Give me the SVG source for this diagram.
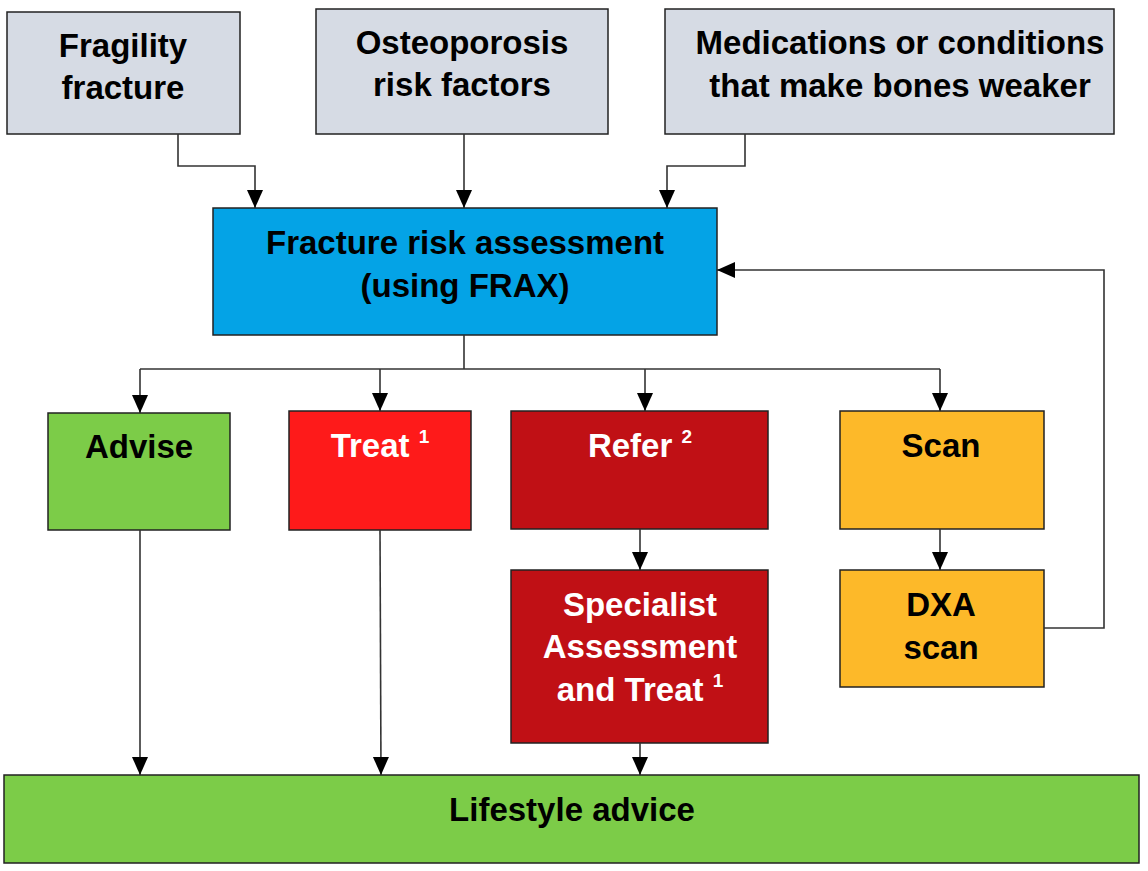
<svg xmlns="http://www.w3.org/2000/svg" width="1148" height="871" viewBox="0 0 1148 871">
<style>
.box{stroke:#222;stroke-width:1.5}
.t{font-family:"Liberation Sans",Arial,sans-serif;font-weight:bold;font-size:33px;text-anchor:middle}
.w{fill:#fff}
.k{fill:#000}
.sup{font-size:19px}
.c{fill:none;stroke:#333;stroke-width:1.6}
</style>
<defs>
<marker id="ah" markerUnits="userSpaceOnUse" markerWidth="18" markerHeight="18" viewBox="0 0 18 16" refX="18" refY="8" orient="auto">
<path d="M0,0 L18,8 L0,16 Z" fill="#000"/>
</marker>
</defs>
<rect width="1148" height="871" fill="#fff"/>
<g id="fragility"><rect class="box" x="7" y="12" width="233" height="122" fill="#d6dbe4"/><text class="t k" x="123" y="57">Fragility</text><text class="t k" x="123" y="99">fracture</text></g>
<g id="osteoporosis"><rect class="box" x="316" y="9" width="292" height="125" fill="#d6dbe4"/><text class="t k" x="462" y="54">Osteoporosis</text><text class="t k" x="462" y="96">risk factors</text></g>
<g id="medications"><rect class="box" x="665" y="9" width="449" height="125" fill="#d6dbe4"/><text class="t k" x="900" y="54">Medications or conditions</text><text class="t k" x="900" y="97">that make bones weaker</text></g>
<g id="frax"><rect class="box" x="213" y="208" width="504" height="127" fill="#04a3e6"/><text class="t k" x="465" y="254">Fracture risk assessment</text><text class="t k" x="465" y="297">(using FRAX)</text></g>
<g id="advise"><rect class="box" x="48" y="413" width="182" height="117" fill="#7ccc48"/><text class="t k" x="139" y="458">Advise</text></g>
<g id="treat"><rect class="box" x="289" y="411" width="182" height="119" fill="#fe1a1a"/><text class="t w" x="380" y="457">Treat <tspan class="sup" dy="-14">1</tspan></text></g>
<g id="refer"><rect class="box" x="511" y="411" width="257" height="118" fill="#c01015"/><text class="t w" x="640" y="457">Refer <tspan class="sup" dy="-14">2</tspan></text></g>
<g id="scan"><rect class="box" x="840" y="411" width="204" height="118" fill="#fdb929"/><text class="t k" x="941" y="457">Scan</text></g>
<g id="specialist"><rect class="box" x="511" y="570" width="257" height="173" fill="#c01015"/><text class="t w" x="640" y="616">Specialist</text><text class="t w" x="640" y="658">Assessment</text><text class="t w" x="640" y="701">and Treat <tspan class="sup" dy="-14">1</tspan></text></g>
<g id="dxa"><rect class="box" x="840" y="570" width="204" height="117" fill="#fdb929"/><text class="t k" x="941" y="616">DXA</text><text class="t k" x="941" y="659">scan</text></g>
<g id="lifestyle"><rect class="box" x="4" y="775" width="1135" height="88" fill="#7ccc48"/><text class="t k" x="572" y="821">Lifestyle advice</text></g>
<g id="connectors">
<path class="c" d="M178,134 V166 H255 V208" marker-end="url(#ah)"/>
<path class="c" d="M464,134 V208" marker-end="url(#ah)"/>
<path class="c" d="M745,134 V166 H667 V208" marker-end="url(#ah)"/>
<path class="c" d="M1044,628 H1104 V270 H717" marker-end="url(#ah)"/>
<path class="c" d="M464,335 V369"/>
<path class="c" d="M140,369 H940"/>
<path class="c" d="M140,369 V413" marker-end="url(#ah)"/>
<path class="c" d="M380,369 V411" marker-end="url(#ah)"/>
<path class="c" d="M645,369 V411" marker-end="url(#ah)"/>
<path class="c" d="M940,369 V411" marker-end="url(#ah)"/>
<path class="c" d="M640,529 V570" marker-end="url(#ah)"/>
<path class="c" d="M940,529 V570" marker-end="url(#ah)"/>
<path class="c" d="M140,530 V775" marker-end="url(#ah)"/>
<path class="c" d="M380,530 L381,775" marker-end="url(#ah)"/>
<path class="c" d="M640,743 V775" marker-end="url(#ah)"/>
</g>
</svg>
